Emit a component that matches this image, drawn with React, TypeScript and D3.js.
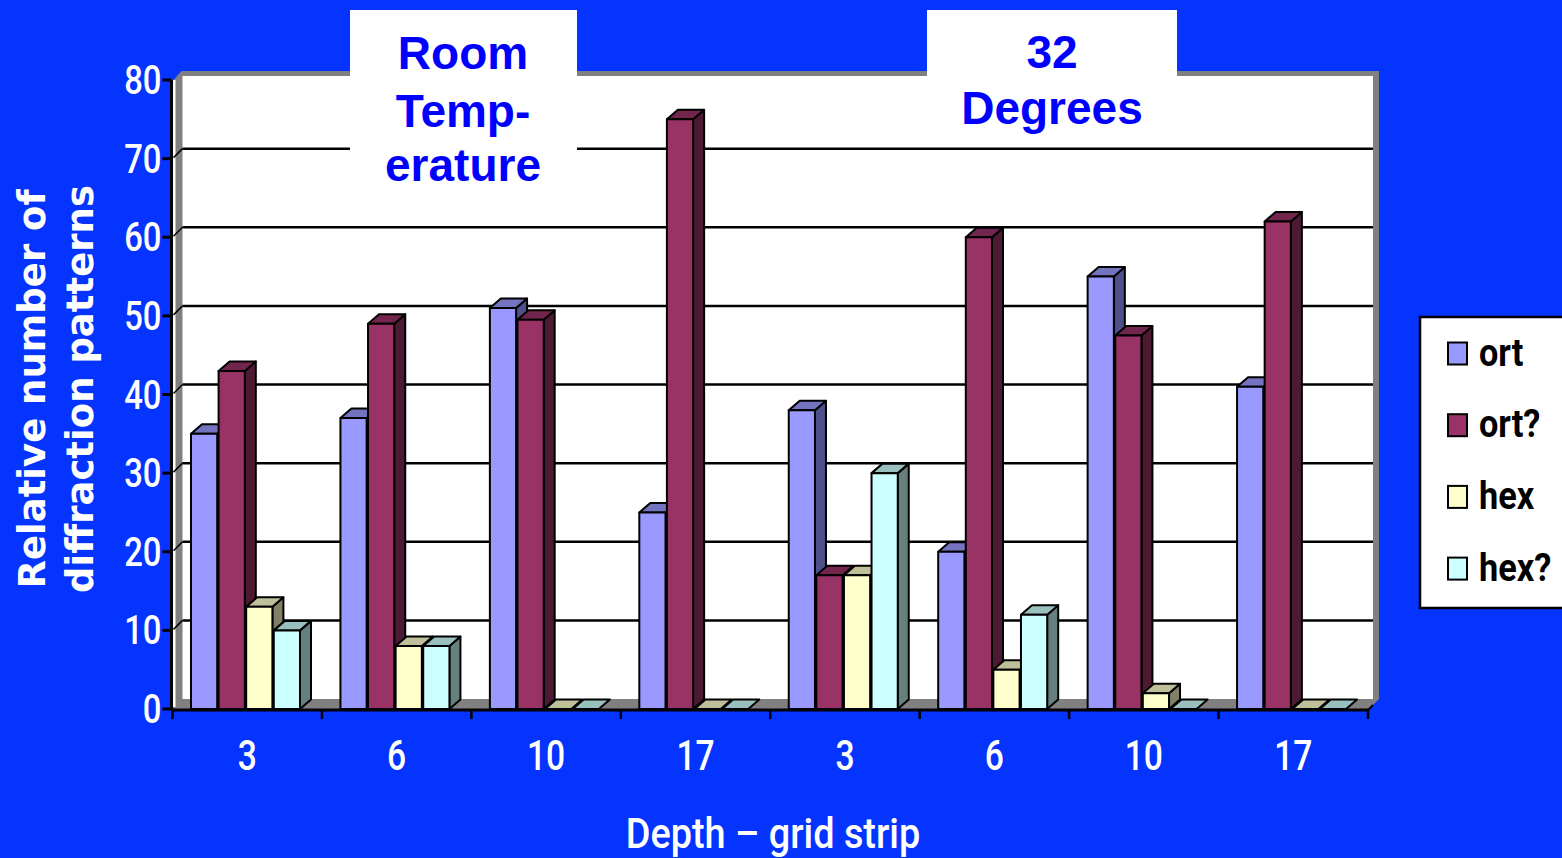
import React from "react";
import * as d3 from "d3";

// Depth (grid strip) for each cluster; first four at room temperature, last four at 32 degrees
const categories = ["3", "6", "10", "17", "3", "6", "10", "17"];
const seriesNames = ["ort", "ort?", "hex", "hex?"];
const ortValues = [35, 37, 51, 25, 38, 20, 55, 41];
const ortQValues = [43, 49, 49.5, 75, 17, 60, 47.5, 62];
const hexValues = [13, 8, 0, 0, 17, 5, 2, 0];
const hexQValues = [10, 8, 0, 0, 30, 12, 0, 0];
const yTicks = [0, 10, 20, 30, 40, 50, 60, 70, 80];

const seriesValues = [ortValues, ortQValues, hexValues, hexQValues];
const seriesColors = [
  { front: "#9999ff", top: "#7373bf", side: "#4f4f8a" },
  { front: "#993366", top: "#73264d", side: "#4d1a33" },
  { front: "#ffffcc", top: "#bfbf99", side: "#808066" },
  { front: "#ccffff", top: "#99bfbf", side: "#668080" },
];

const W = 1562;
const H = 858;
const BG = "#0533ff";
const NARROW = "Roboto, 'Liberation Sans', sans-serif";

// Text squeezed horizontally to a condensed look
function Narrow(props: {
  x: number;
  y: number;
  sx: number;
  size: number;
  anchor?: string;
  fill?: string;
  weight?: number | string;
  children: React.ReactNode;
}) {
  const { x, y, sx, size, anchor = "start", fill = "#fff", weight = 500, children } = props;
  return (
    <text
      transform={`translate(${x},${y}) scale(${sx},1)`}
      textAnchor={anchor}
      fill={fill}
      fontFamily={NARROW}
      fontWeight={weight}
      fontSize={size}
    >
      {children}
    </text>
  );
}

export default function App() {
  const x0 = 172.5;
  const x1 = 1368;
  const y = d3.scaleLinear().domain([0, 80]).range([709, 80]);
  const x = d3
    .scaleBand<number>()
    .domain(categories.map((_, i) => i))
    .range([x0, x1]);
  const inner = d3
    .scaleBand<number>()
    .domain(seriesNames.map((_, i) => i))
    .range([0, 109])
    .paddingInner(0.05);

  // oblique offsets for the wall and the bar depth
  const wdx = 10;
  const wdy = -10;
  const bdx = 11;
  const bdy = -9.5;
  const y0 = y(0);
  const yTop = y(80);

  const wallLeft = x0 + wdx;
  const wallRight = 1373;

  const bars: React.ReactNode[] = [];
  categories.forEach((_, ci) => {
    seriesValues.forEach((vals, si) => {
      const v = vals[ci];
      const c = seriesColors[si];
      const xs = (x(ci) as number) + 18.5 + (inner(si) as number);
      const w = inner.bandwidth();
      const yv = y(v);
      const top = `M${xs},${yv} L${xs + bdx},${yv + bdy} L${xs + w + bdx},${yv + bdy} L${xs + w},${yv} Z`;
      const side = `M${xs + w},${yv} L${xs + w + bdx},${yv + bdy} L${xs + w + bdx},${y0 + bdy} L${xs + w},${y0} Z`;
      bars.push(
        <g key={`b-${ci}-${si}`} stroke="#000" strokeWidth={2} strokeLinejoin="round">
          {v > 0 && <path d={side} fill={c.side} />}
          <path d={top} fill={c.top} />
          {v > 0 && <rect x={xs} y={yv} width={w} height={y0 - yv} fill={c.front} />}
        </g>
      );
    });
  });

  return (
    <svg
      width={W}
      height={H}
      style={{ position: "absolute", left: 0, top: 0, display: "block" }}
    >
      <rect x={0} y={0} width={W} height={H} fill={BG} />

      {/* walls and floor with their gray thickness */}
      <path
        d={`M${x0 + 1},${y0} L${x0 + 1},${yTop} L${x0 + 9},${yTop + wdy + 1} L${wallRight + 6},${yTop + wdy + 1} L${wallRight + 6},${y0 + wdy} L${x1 + 1},${y0} Z`}
        fill="#808080"
      />
      <rect x={x0 + 0.5} y={yTop} width={2.5} height={y0 - yTop - 2} fill="#ffffff" />
      <rect
        x={wallLeft}
        y={yTop + wdy + 6}
        width={wallRight - wallLeft}
        height={y0 + wdy - (yTop + wdy + 6)}
        fill="#ffffff"
      />

      {/* gridlines on the back wall and left side wall */}
      {yTicks
        .filter((t) => t > 0 && t < 80)
        .map((t) => (
          <g key={`g-${t}`} stroke="#000" strokeWidth={2.5}>
            <line x1={wallLeft} x2={wallRight} y1={y(t) + wdy} y2={y(t) + wdy} />
            <line x1={x0 + 1} x2={wallLeft} y1={y(t) - 1} y2={y(t) + wdy} strokeWidth={1.5} />
          </g>
        ))}

      {bars}

      {/* value axis */}
      <line x1={x0 - 1} x2={x0 - 1} y1={yTop} y2={y0} stroke="#000" strokeWidth={3} />
      {yTicks.map((t) => (
        <g key={`yt-${t}`}>
          <line x1={x0 - 10} x2={x0 - 1} y1={y(t)} y2={y(t)} stroke="#000" strokeWidth={3} />
          <Narrow x={x0 - 11} y={y(t) + 14} sx={0.8} size={41} anchor="end">
            {t}
          </Narrow>
        </g>
      ))}

      {/* category axis */}
      <line x1={x0 - 1} x2={x1 + 1} y1={y0 + 1} y2={y0 + 1} stroke="#000" strokeWidth={3} />
      <line x1={x1} x2={x1 + 5} y1={y0 + 1} y2={y0 - 4} stroke="#000" strokeWidth={2} />
      {categories.map((_, i) => (
        <line
          key={`xt-${i}`}
          x1={x(i) as number}
          x2={x(i) as number}
          y1={y0}
          y2={y0 + 10}
          stroke="#000"
          strokeWidth={2.5}
        />
      ))}
      <line x1={x1} x2={x1} y1={y0} y2={y0 + 10} stroke="#000" strokeWidth={2.5} />
      {categories.map((c, i) => (
        <Narrow
          key={`xl-${i}`}
          x={(x(i) as number) + x.bandwidth() / 2}
          y={770}
          sx={0.8}
          size={42}
          anchor="middle"
        >
          {c}
        </Narrow>
      ))}

      {/* axis titles */}
      <Narrow x={773} y={848} sx={0.88} size={43} anchor="middle">
        Depth – grid strip
      </Narrow>
      <g transform="translate(45,389) rotate(-90)">
        <text
          x={0}
          y={0}
          textAnchor="middle"
          fill="#fff"
          fontFamily="'DejaVu Sans', Verdana, sans-serif"
          fontWeight="bold"
          fontSize={37}
        >
          Relative number of
        </text>
        <text
          x={0}
          y={48}
          textAnchor="middle"
          fill="#fff"
          fontFamily="'DejaVu Sans', Verdana, sans-serif"
          fontWeight="bold"
          fontSize={37}
        >
          diffraction patterns
        </text>
      </g>

      {/* group titles */}
      <rect x={350} y={10} width={227} height={182} fill="#fff" />
      <g
        fill="#0000ff"
        fontFamily="'Liberation Sans', Arial, sans-serif"
        fontWeight="bold"
        fontSize={46}
        textAnchor="middle"
      >
        <text x={463} y={69}>Room</text>
        <text x={463} y={127}>Temp-</text>
        <text x={463} y={181}>erature</text>
      </g>
      <rect x={927} y={10} width={250} height={137} fill="#fff" />
      <g
        fill="#0000ff"
        fontFamily="'Liberation Sans', Arial, sans-serif"
        fontWeight="bold"
        fontSize={46}
        textAnchor="middle"
      >
        <text x={1052} y={68}>32</text>
        <text x={1052} y={124}>Degrees</text>
      </g>

      {/* legend */}
      <rect x={1420} y={317} width={160} height={291} fill="#fff" stroke="#000" strokeWidth={2.5} />
      {seriesNames.map((name, i) => {
        const cy = 353.5 + i * 71.7;
        return (
          <g key={`lg-${i}`}>
            <rect
              x={1448}
              y={cy - 11}
              width={19}
              height={22}
              fill={seriesColors[i].front}
              stroke="#000"
              strokeWidth={2}
            />
            <Narrow x={1479} y={cy + 12} sx={0.88} size={39} fill="#000" weight="bold">
              {name}
            </Narrow>
          </g>
        );
      })}
    </svg>
  );
}
